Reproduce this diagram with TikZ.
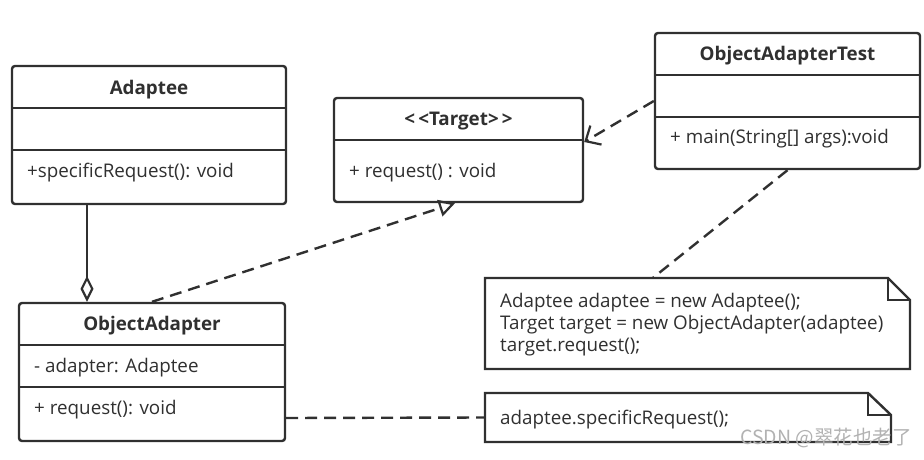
\documentclass[tikz,border=0pt]{standalone}
\usepackage{fontspec}
\setmainfont{Open Sans}
\newfontfamily\cjk{Noto Sans CJK SC}
\usetikzlibrary{arrows.meta,calc}
\definecolor{ink}{HTML}{303030}
\tikzset{
  classbox/.style={draw=ink, line width=2.4pt, rounded corners=3pt, inner sep=0pt},
  divider/.style={draw=ink, line width=2.4pt},
  titletxt/.style={font=\fontsize{18.8}{21}\selectfont\bfseries, text=ink, inner sep=0pt},
  membertxt/.style={font=\fontsize{18.8}{21}\selectfont, text=ink, anchor=west, inner sep=0pt},
  notetxt/.style={font=\fontsize{18.8}{22}\selectfont, text=ink, anchor=north west, inner sep=0pt, align=left},
  conn/.style={draw=ink, line width=2.4pt},
  dashconn/.style={conn, dash pattern=on 12pt off 7pt},
  notebox/.style={inner sep=0pt},
}
\begin{document}
\begin{tikzpicture}[x=1pt,y=-1pt]
\useasboundingbox (0,0) rectangle (924,460);
\fill[white] (0,0) rectangle (924,460);

% Adaptee
\node[classbox, minimum width=274pt, minimum height=138pt] (adaptee) at (149,135) {};
\draw[divider] (12,108) -- (286,108);
\draw[divider] (12,150) -- (286,150);
\node[titletxt] (adapteeT) at (149,90) {Adaptee};
\node[membertxt] (adapteeM) at (27,173) {+specificRequest(): void};

% Target
\node[classbox, minimum width=249pt, minimum height=104pt] (target) at (458.5,150) {};
\draw[divider] (334,140) -- (583,140);
\node[titletxt] (targetT) at (458.5,121) {<\,<Target>\,>};
\node[membertxt] (targetM) at (349,173) {+ request() : void};

% ObjectAdapterTest
\node[classbox, minimum width=265pt, minimum height=136pt] (test) at (787.5,101) {};
\draw[divider] (655,75) -- (920,75);
\draw[divider] (655,117) -- (920,117);
\node[titletxt] (testT) at (787.5,56) {ObjectAdapterTest};
\node[membertxt] (testM) at (670,139) {+ main(String[] args):void};

% ObjectAdapter
\node[classbox, minimum width=266pt, minimum height=138pt] (oadapter) at (152,372) {};
\draw[divider] (19,345) -- (285,345);
\draw[divider] (19,387) -- (285,387);
\node[titletxt] (oadapterT) at (152,326) {ObjectAdapter};
\node[membertxt] (oadapterA) at (34,368) {- adapter: Adaptee};
\node[membertxt] (oadapterM) at (34,410) {+ request(): void};

% Note 1
\node[notebox, minimum width=425pt, minimum height=91pt] (note1) at (697.5,323.5) {};
\draw[divider, line join=miter] (485,278) -- (888,278) -- (910,300) -- (910,369) -- (485,369) -- cycle;
\draw[divider, line join=miter] (888,278) -- (888,300) -- (910,300);
\node[notetxt] (note1T) at (500,293) {Adaptee adaptee = new Adaptee();\\Target target = new ObjectAdapter(adaptee)\\target.request();};

% Note 2
\node[notebox, minimum width=406pt, minimum height=49pt] (note2) at (688,417.5) {};
\draw[divider, line join=miter] (485,393) -- (868,393) -- (891,415) -- (891,442) -- (485,442) -- cycle;
\draw[divider, line join=miter] (868,393) -- (868,415) -- (891,415);
\node[membertxt] (note2T) at (500,420) {adaptee.specificRequest();};

% watermark
\node[font=\cjk\fontsize{19.5}{21}\selectfont, text=black!30, anchor=east, inner sep=0pt] (wm) at (912,438) {CSDN @翠花也老了};

% Connectors
\draw[conn, -{Diamond[open, length=26pt, width=13pt, line width=2.2pt]}]
  ([xshift=-62pt]adaptee.south) -- ([xshift=-65pt]oadapter.north);
\draw[dashconn, -{Triangle[open, length=16pt, width=17pt, line width=2.2pt]}]
  (oadapter.north) -- ([xshift=-3.5pt]target.south);
\draw[dashconn, -{Straight Barb[length=12pt, width=22pt, line width=2.2pt]}]
  (test.west) -- ([yshift=8pt]target.east);
\draw[dashconn] (test.south) -- ([xshift=-44.5pt]note1.north);
\draw[dashconn] ([yshift=-46pt]oadapter.east) -- (note2.west);
\end{tikzpicture}
\end{document}
